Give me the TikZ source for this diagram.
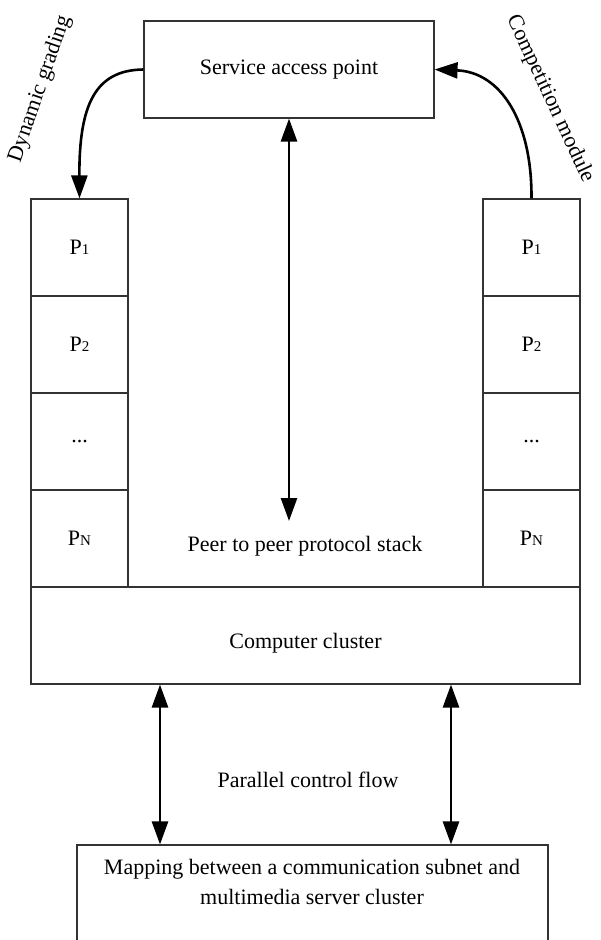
\documentclass[tikz,border=0pt]{standalone}
\usepackage{fontspec}
\setmainfont{Liberation Serif}
\usetikzlibrary{arrows.meta}
\newcommand{\sbs}[1]{{\fontsize{15}{15}\selectfont #1}}
\begin{document}
\begin{tikzpicture}[x=1pt,y=-1pt,
  box/.style={draw=black!80, line width=1.1pt, rectangle, inner sep=0pt, font=\fontsize{22}{30}\selectfont},
  pbox/.style={box, minimum width=97pt, minimum height=97pt},
  arr/.style={line width=2.6pt, -{Triangle[length=23pt,width=16pt]}},
  darr/.style={line width=2.6pt, {Triangle[length=23pt,width=16pt]}-{Triangle[length=23pt,width=16pt]}},
  lbl/.style={font=\fontsize{22}{30}\selectfont, inner sep=0pt}]
\useasboundingbox (0,0) rectangle (601,940);
% boxes
\node[box, minimum width=290pt, minimum height=97pt] (sap) at (289,69.5) {Service access point};
\node[pbox] (l1) at (79.5,247.5) {P\sbs{1}};
\node[pbox] (l2) at (79.5,344.5) {P\sbs{2}};
\node[pbox] (l3) at (79.5,441.5) {...};
\node[pbox] (l4) at (79.5,538.5) {P\sbs{N}};
\node[pbox] (r1) at (531.5,247.5) {P\sbs{1}};
\node[pbox] (r2) at (531.5,344.5) {P\sbs{2}};
\node[pbox] (r3) at (531.5,441.5) {...};
\node[pbox] (r4) at (531.5,538.5) {P\sbs{N}};
\node[box, minimum width=549pt, minimum height=97pt] (cc) at (305.5,635.5) {};
\node[lbl] (cctext) at (305.5,643) {Computer cluster};
\node[box, minimum width=471pt, minimum height=104pt] (map) at (312.5,897) {};
\node[lbl, align=center] (maptext) at (312,882) {Mapping between a communication subnet and\\multimedia server cluster};
% labels
\node[lbl] (p2p) at (305,546) {Peer to peer protocol stack};
\node[lbl] (pcf) at (308,780) {Parallel control flow};
\node[lbl, rotate=71] (dg) at (40,89) {Dynamic grading};
\node[lbl, rotate=-65] (cm) at (550,99) {Competition module};
% connectors
\coordinate (mid) at (289,521);
\coordinate (a1) at (160,0);
\coordinate (a2) at (451,0);
\draw[darr] (sap.south) -- (mid);
\draw[darr] (cc.south -| a1) -- (map.north -| a1);
\draw[darr] (cc.south -| a2) -- (map.north -| a2);
\draw[arr] (sap.west) .. controls (95,70) and (79,105) .. (l1.north);
\draw[arr] (r1.north) .. controls (532,120) and (500,72) .. (sap.east);
\end{tikzpicture}
\end{document}
